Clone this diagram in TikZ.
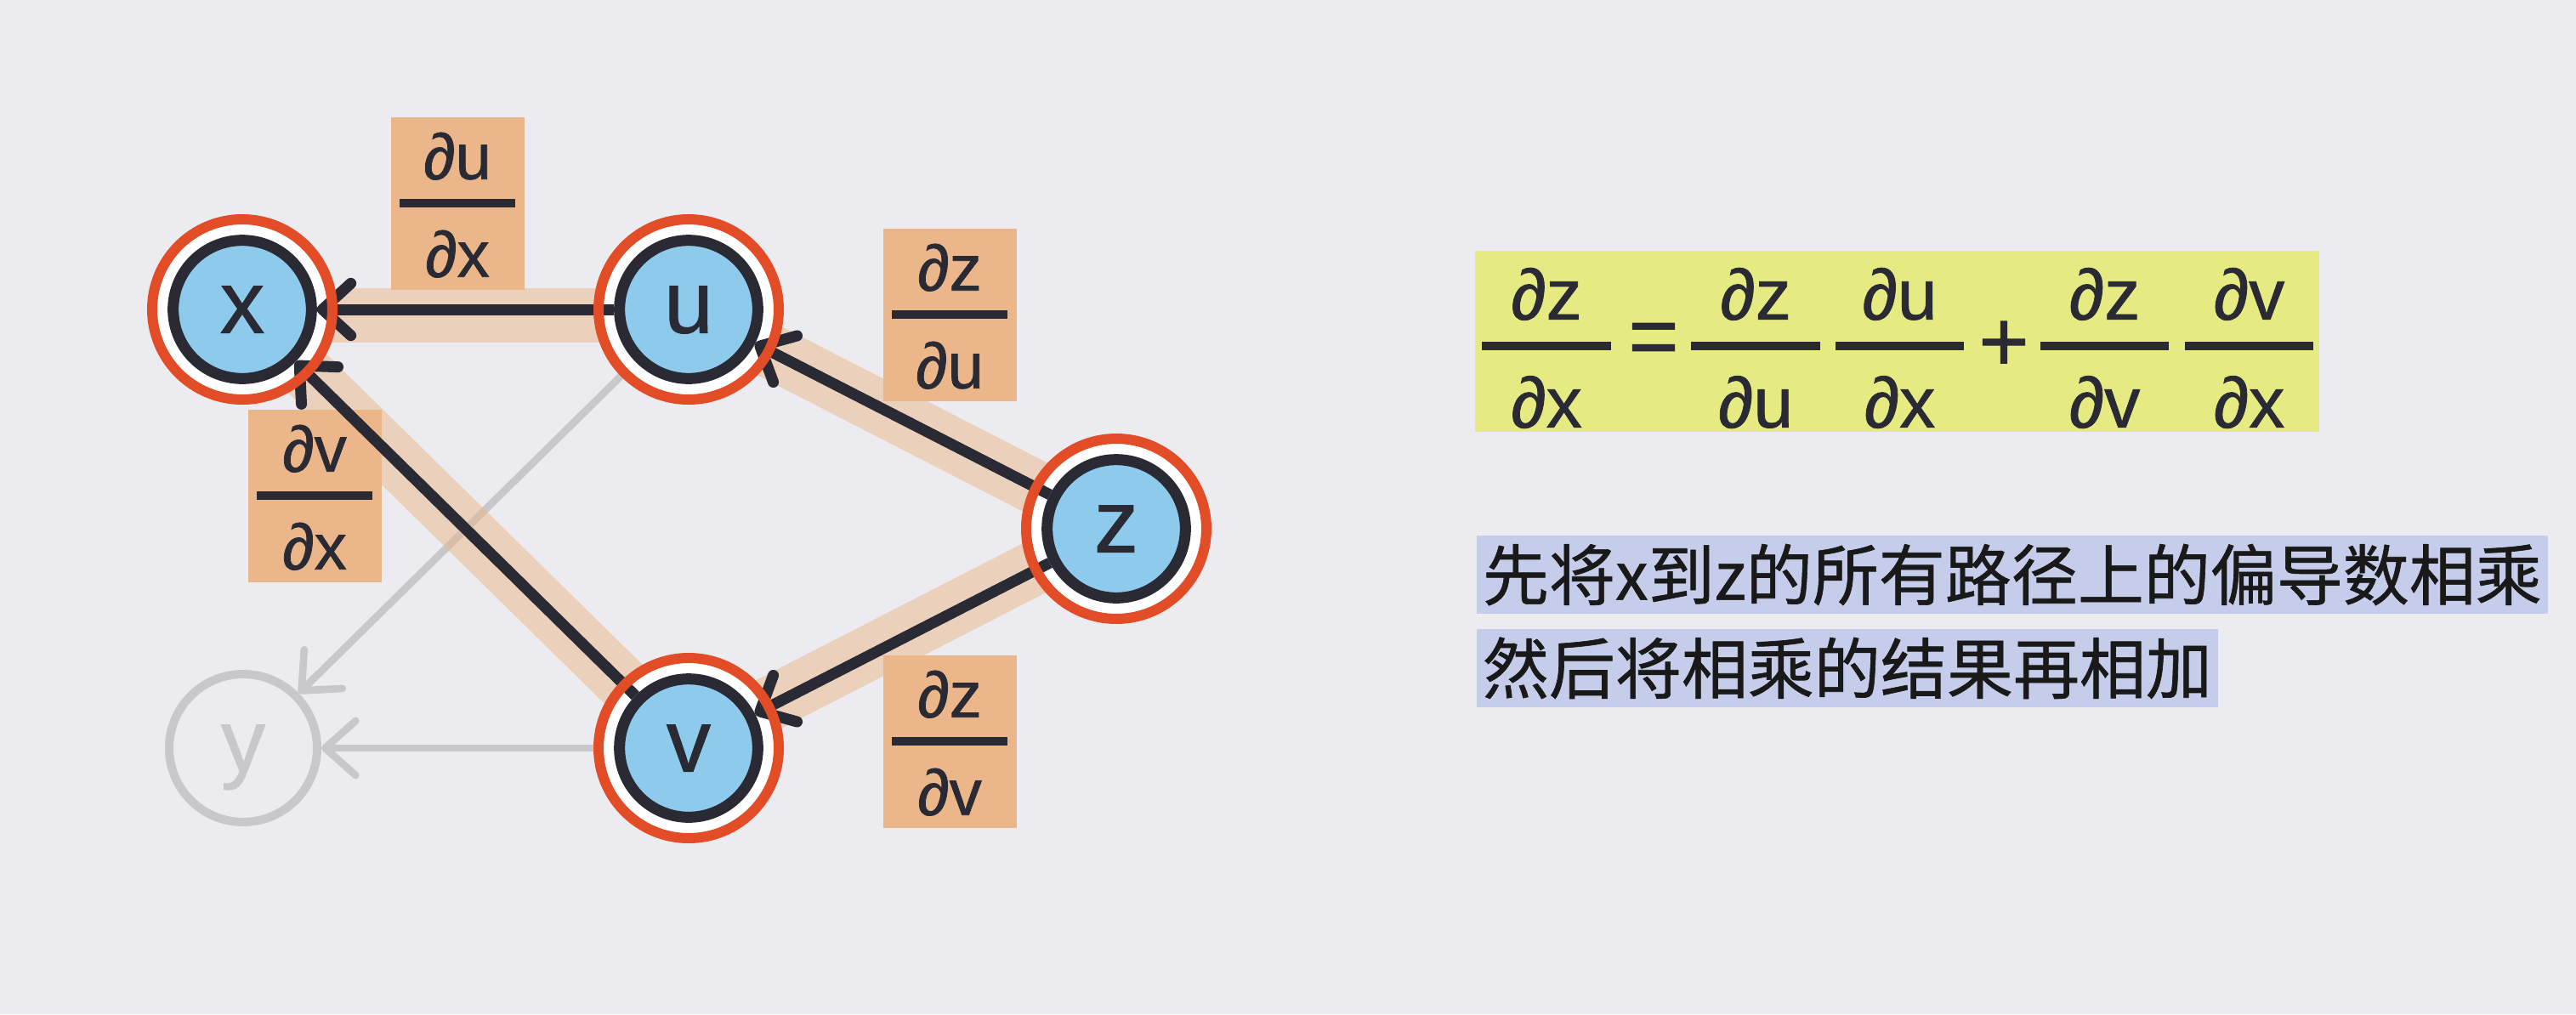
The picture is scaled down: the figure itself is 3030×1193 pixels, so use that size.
\documentclass[tikz,border=0pt]{standalone}
\usepackage{fontspec}
\setmainfont{Liberation Sans}[FakeBold=1]
\newfontfamily\cjk{Noto Sans CJK SC}[FakeBold=0.8]
\usetikzlibrary{arrows.meta}

\definecolor{bgcol}{RGB}{236,235,239}
\definecolor{peach}{RGB}{235,183,138}
\definecolor{nodeblue}{RGB}{141,202,236}
\definecolor{inkdark}{RGB}{42,42,52}
\definecolor{ringred}{RGB}{226,77,40}
\definecolor{fadegray}{RGB}{200,200,203}
\definecolor{hiyellow}{RGB}{230,234,130}
\definecolor{hilav}{RGB}{197,205,234}

\pgfdeclarelayer{back}
\pgfdeclarelayer{front}
\pgfsetlayers{back,main,front}

% partial derivative as a stacked fraction
\newcommand{\pdfrac}[2]{%
  \vbox{\offinterlineskip\halign{\hfil##\hfil\cr
    \rule{0pt}{0.78em}∂#1\cr
    \noalign{\kern0.3em}
    \rule{1.8em}{0.12em}\cr
    \noalign{\kern0.3em}
    \rule{0pt}{0.78em}∂#2\cr}}}

\tikzset{every picture/.style={line width=0.75pt}}
\tikzset{
  var/.style={circle, fill=nodeblue, draw=inkdark, line width=9.75pt, minimum size=122pt,
    inner sep=0pt, text=inkdark, font=\fontsize{78}{90}\selectfont, text depth=0pt},
  faded/.style={circle, draw=fadegray, line width=7.5pt, minimum size=130.5pt,
    inner sep=0pt, text=fadegray, font=\fontsize{78}{90}\selectfont, text depth=0pt},
  dpart/.style={fill=peach, minimum width=117.75pt, minimum height=152.25pt, inner sep=0pt,
    text=inkdark, font=\fontsize{57}{68}\selectfont},
  fpart/.style={inner sep=0pt, text=inkdark, font=\fontsize{63}{75}\selectfont},
  fsign/.style={inner sep=0pt, text=inkdark, font=\fontsize{76}{90}\selectfont},
  note/.style={anchor=west, fill=hilav, inner xsep=5pt, inner ysep=5.25pt, text height=51.5pt,
    text depth=7pt, text=black!90, font=\cjk\fontsize{58.5}{70}\selectfont},
  flow/.style={draw=inkdark, line width=9.75pt, -{Straight Barb[length=25pt, width=46pt, round]}},
  flowfade/.style={draw=fadegray, line width=6.5pt, -{Straight Barb[length=27pt, width=48pt, round]}},
  glow/.style={draw=peach, draw opacity=0.5, line width=48pt},
  ring/.style={draw=ringred, line width=9pt}
}

\begin{document}
\begin{tikzpicture}[x=0.75pt,y=0.75pt,yscale=-1,xscale=1]
        \useasboundingbox (0,0) rectangle (3030,1193);
        \begin{pgfonlayer}{back}
        %Shape: Rectangle
        \fill[bgcol] (0,0) rectangle (3030,1193);
        \end{pgfonlayer}

        %Shape: Circle
        \node[var] (x) at (285,364) {x};
        %Shape: Circle
        \node[var] (u) at (810,364) {u};
        %Shape: Circle
        \node[var] (z) at (1313,622) {z};
        %Shape: Circle
        \node[var] (v) at (810,880) {v};
        %Shape: Circle
        \node[faded] (y) at (286,880) {y};

        \begin{pgfonlayer}{back}
        %Straight Lines
        \draw[flowfade] (u) -- (y);
        %Straight Lines
        \draw[flowfade] (v) -- (y);
        %Straight Lines
        \draw[glow] ([yshift=5pt]x.center) -- ([yshift=5pt]u.center);
        %Straight Lines
        \draw[glow] ([xshift=4pt,yshift=4pt]x.center) -- ([xshift=4pt,yshift=4pt]v.center);
        %Straight Lines
        \draw[glow] (u.center) -- (z.center);
        %Straight Lines
        \draw[glow] ([xshift=5pt,yshift=-5pt]z.center) -- ([xshift=5pt,yshift=-5pt]v.center);
        %Shape: Circle
        \foreach \n in {x,u,z,v} {\fill[white] (\n.center) circle[radius=100];}
        \end{pgfonlayer}

        % Text Node
        \node[dpart] (dudx) at (538,239) {\pdfrac{u}{x}};
        % Text Node
        \node[dpart] (dzdu) at (1117,370) {\pdfrac{z}{u}};
        % Text Node
        \node[dpart] (dvdx) at (370,583) {\pdfrac{v}{x}};
        % Text Node
        \node[dpart] (dzdv) at (1117,872) {\pdfrac{z}{v}};

        %Straight Lines
        \draw[flow] (u) -- (x);
        %Straight Lines
        \draw[flow] (v) -- (x);
        %Straight Lines
        \draw[flow] (z) -- (u);
        %Straight Lines
        \draw[flow] (z) -- (v);

        \begin{pgfonlayer}{front}
        %Shape: Circle
        \foreach \n in {x,u,z,v} {\draw[ring] (\n.center) circle[radius=106];}
        \end{pgfonlayer}

        %Shape: Rectangle
        \node[fill=hiyellow, minimum width=744.75pt, minimum height=159.75pt, inner sep=0pt] (fbox) at (2231.5,401.5) {};
        % Text Node
        \node[fpart] (f1) at (1819,407) {\pdfrac{z}{x}};
        % Text Node
        \node[fsign] (eq) at (1945,405) {=};
        % Text Node
        \node[fpart] (f2) at (2065,407) {\pdfrac{z}{u}};
        % Text Node
        \node[fpart] (f3) at (2234.5,407) {\pdfrac{u}{x}};
        % Text Node
        \node[fsign] (plus) at (2357,407) {+};
        % Text Node
        \node[fpart] (f4) at (2475.5,407) {\pdfrac{z}{v}};
        % Text Node
        \node[fpart] (f5) at (2645.5,407) {\pdfrac{v}{x}};

        % Text Node
        \node[note] (line1) at (1737,676) {先将x到z的所有路径上的偏导数相乘};
        % Text Node
        \node[note] (line2) at (1737,786) {然后将相乘的结果再相加};

\end{tikzpicture}
\end{document}
